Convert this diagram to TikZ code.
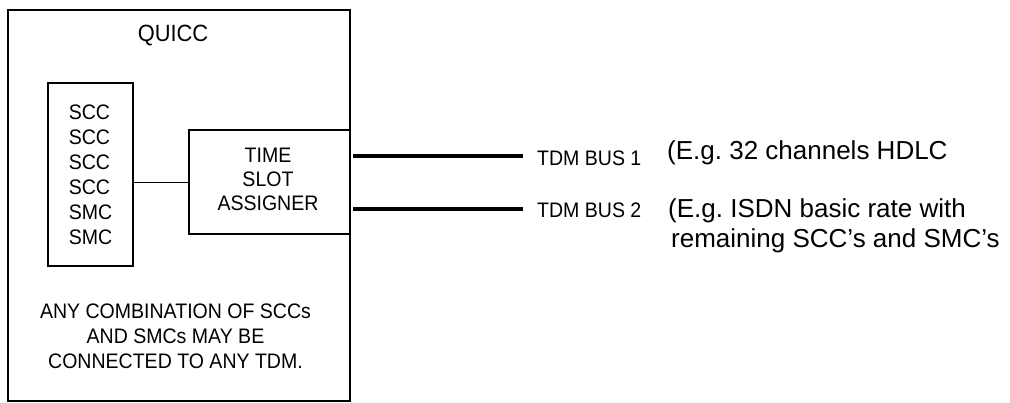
\documentclass[tikz,border=0pt]{standalone}
\usepackage{fontspec}
\setmainfont{Liberation Sans}
\newfontfamily\narrowfont{Liberation Sans}[FakeStretch=0.93]
\frenchspacing
\begin{document}
\begin{tikzpicture}[x=1pt,y=-1pt,
  box/.style={draw, line width=2pt, inner sep=0pt},
  lbl/.style={font=\narrowfont\fontsize{21}{25}\selectfont, inner sep=0pt},
  bus/.style={line width=4.6pt},
  link/.style={line width=1pt},
  note/.style={font=\fontsize{26}{30}\selectfont, inner sep=0pt, anchor=base west}]
\useasboundingbox (0,0) rectangle (1010,402);
\node[box, minimum width=342pt, minimum height=391pt] (quicc) at (179,205) {};
\node[lbl, font=\narrowfont\fontsize{23.5}{28}\selectfont] (title) at (173,36) {QUICC};
\node[box, minimum width=85pt, minimum height=183pt] (scc) at (90.5,174.5) {};
\node[lbl, align=left] (scclist) at (scc.center) {SCC\\SCC\\SCC\\SCC\\SMC\\SMC};
\node[box, minimum width=161pt, minimum height=104pt] (tsa) at (269.5,182) {};
\node[lbl, font=\narrowfont\fontsize{21}{24}\selectfont, align=center] (tsatext) at (268,179) {TIME\\SLOT\\ASSIGNER};
\draw[link] (tsa.west -| scc.east) -- (tsa.west);
\node[lbl, align=center] (comb) at (175.5,336) {ANY COMBINATION OF SCCs\\AND SMCs MAY BE\\CONNECTED TO ANY TDM.};
\coordinate (b1s) at (353,156);
\coordinate (b1e) at (523,156);
\coordinate (b2s) at (353,209);
\coordinate (b2e) at (523,209);
\draw[bus] (b1s) -- (b1e);
\draw[bus] (b2s) -- (b2e);
\node[lbl, anchor=west] (bus1) at (537,158) {TDM BUS 1};
\node[lbl, anchor=west] (bus2) at (537,210) {TDM BUS 2};
\node[note] (n1) at (667,159.5) {(E.g. 32 channels HDLC};
\node[note] (n2) at (668,217.5) {(E.g. ISDN basic rate with};
\node[note] (n3) at (671,247.5) {remaining SCC’s and SMC’s};
\end{tikzpicture}
\end{document}
